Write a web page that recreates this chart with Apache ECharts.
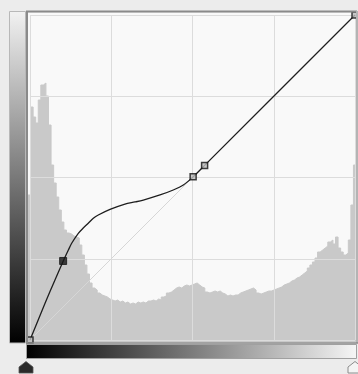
<!DOCTYPE html>
<html>
<head>
<meta charset="utf-8">
<script src="https://cdn.jsdelivr.net/npm/echarts@6/dist/echarts.min.js"></script>
<style>
html,body{margin:0;padding:0;background:#ececec;}
#c{width:358px;height:374px;}
</style>
</head>
<body>
<div id="c"></div>
<script>
// Histogram heights (128 bins across the 0-255 input range)
const histogram = [
 147,235,225,219,242,257,259,246,217,177,159,145,132,120,112,109,
 108,106,105,104,97,87,77,68,59,54,52,49,47,46,45,43,
 42,41,42,40,41,39,40,38,39,38,40,39,40,39,41,41,
 42,41,43,42,45,46,49,50,52,54,55,54,56,57,56,57,
 58,59,57,55,54,50,49,50,51,50,51,49,48,46,47,46,
 47,47,49,50,51,52,53,54,52,49,48,49,50,51,51,52,
 53,54,55,57,58,59,61,62,64,65,67,69,71,74,77,80,
 84,90,92,94,96,100,102,98,105,94,90,87,89,102,137,177
];
// Curve samples (input, output)
const curveIn  = [0, 11.8, 19.6, 26.1, 30.1, 32.7, 37.9, 41.8, 45.7, 49.7, 53.6, 62.8, 74.5, 82.4, 88.9, 102, 112.4, 120.3, 128, 137, 255];
const curveOut = [0, 28.8, 47.1, 62.0, 70.6, 75.9, 83.7, 87.9, 91.6, 95.5, 98.1, 102.5, 106.7, 108.3, 109.8, 113.8, 117.7, 121.6, 128, 137, 255];
// Control points
const pointIn  = [0, 26, 128, 137, 255];
const pointOut = [0, 62, 128, 137, 255];
const pointFilled = [false, true, false, false, false];
// Baseline diagonal
const baseIn = [0, 255];
const baseOut = [0, 255];

const chart = echarts.init(document.getElementById('c'), null, {renderer: 'canvas'});
// each bin drawn as a step from its left edge; closing edge repeats the last bin
const histData = histogram.map((v, i) => [i, v]);
histData.push([histogram.length, histogram[histogram.length - 1]]);

const option = {
  backgroundColor: '#ececec',
  animation: false,
  grid: [
    {left: 28, top: 13, width: 328, height: 329, show: true, backgroundColor: '#f9f9f9', borderWidth: 0},
    {left: 30, top: 15, width: 325, height: 325, show: false}
  ],
  xAxis: [
    {gridIndex: 0, type: 'value', min: 0, max: histogram.length, show: false},
    {gridIndex: 1, type: 'value', min: 0, max: 255, interval: 63.75, z: 3,
     axisLine: {show: false}, axisTick: {show: false}, axisLabel: {show: false},
     splitLine: {show: true, lineStyle: {color: '#dcdcdc', width: 1}}}
  ],
  yAxis: [
    {gridIndex: 0, type: 'value', min: 0, max: 329, show: false},
    {gridIndex: 1, type: 'value', min: 0, max: 255, interval: 63.75, z: 3,
     axisLine: {show: false}, axisTick: {show: false}, axisLabel: {show: false},
     splitLine: {show: true, lineStyle: {color: '#dcdcdc', width: 1}}}
  ],
  series: [
    {type: 'line', xAxisIndex: 0, yAxisIndex: 0, data: histData, step: 'end', z: 1,
     symbol: 'none', lineStyle: {color: '#c9c9c9', width: 1},
     areaStyle: {color: '#c9c9c9', opacity: 1}, silent: true},
    {type: 'line', xAxisIndex: 1, yAxisIndex: 1, data: baseIn.map((x, i) => [x, baseOut[i]]),
     symbol: 'none', z: 4, lineStyle: {color: '#d6d6d6', width: 1}, silent: true},
    {type: 'line', xAxisIndex: 1, yAxisIndex: 1, data: curveIn.map((x, i) => [x, curveOut[i]]),
     symbol: 'none', smooth: 0.3, z: 8, lineStyle: {color: '#1e1e1e', width: 1.3}, silent: true},
    {type: 'scatter', xAxisIndex: 1, yAxisIndex: 1, z: 10, symbol: 'rect',
     data: pointIn.map((x, i) => ({
       value: [x, pointOut[i]],
       symbolSize: pointFilled[i] ? 7 : 6,
       itemStyle: pointFilled[i] ? {color: '#151515', borderColor: '#151515', borderWidth: 1}
                                 : {color: '#bdbdbd', borderColor: '#111', borderWidth: 1.5}
     })), silent: true}
  ],
  graphic: [
    {type: 'rect', z: 100, shape: {x: 9.5, y: 11.5, width: 16, height: 331.5},
     style: {fill: new echarts.graphic.LinearGradient(0, 0, 0, 1, [
       {offset: 0, color: '#f2f2f2'}, {offset: 1, color: '#000000'}]), stroke: '#b8b8b8', lineWidth: 1}},
    {type: 'polyline', z: 100, shape: {points: [[27, 343], [27, 11.5], [357, 11.5]]},
     style: {stroke: '#8a8a8a', lineWidth: 2, fill: null}},
    {type: 'line', z: 100, shape: {x1: 357, y1: 11, x2: 357, y2: 343},
     style: {stroke: '#b4b4b4', lineWidth: 2}},
    {type: 'line', z: 100, shape: {x1: 27, y1: 343, x2: 358, y2: 343},
     style: {stroke: '#8a8a8a', lineWidth: 1.5}},
    {type: 'rect', z: 100, shape: {x: 26.5, y: 344.5, width: 330, height: 14},
     style: {fill: new echarts.graphic.LinearGradient(0, 0, 1, 0, [
       {offset: 0, color: '#000000'}, {offset: 1, color: '#f6f6f6'}]), stroke: '#a0a0a0', lineWidth: 1}},
    {type: 'polygon', z: 100, shape: {points: [[26, 361.5], [33, 367], [33, 373], [19, 373], [19, 367]]},
     style: {fill: '#2a2a2a', stroke: '#555', lineWidth: 0.8}},
    {type: 'polygon', z: 100, shape: {points: [[355, 361.5], [362, 367], [362, 373], [348, 373], [348, 367]]},
     style: {fill: '#f4f4f4', stroke: '#8c8c8c', lineWidth: 1}}
  ]
};
chart.setOption(option);
</script>
</body>
</html>
